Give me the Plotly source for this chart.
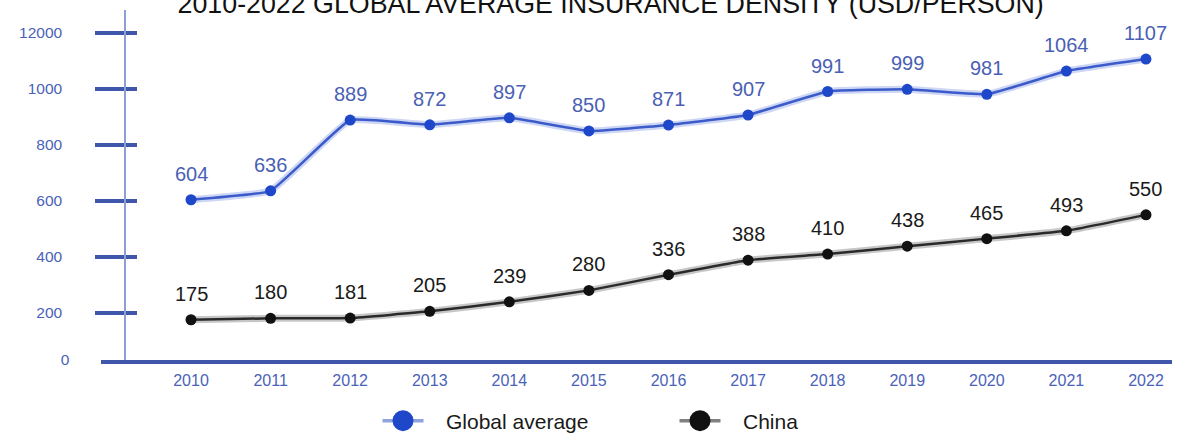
import plotly.graph_objects as go

years = [2010, 2011, 2012, 2013, 2014, 2015, 2016, 2017, 2018, 2019, 2020, 2021, 2022]
global_avg = [604, 636, 889, 872, 897, 850, 871, 907, 991, 999, 981, 1064, 1107]
china = [175, 180, 181, 205, 239, 280, 336, 388, 410, 438, 465, 493, 550]
y_tick_vals = [200, 400, 600, 800, 1000, 1200]
y_tick_text = ["200", "400", "600", "800", "1000", "12000"]
series_names = ["Global average", "China"]
title_text = "2010-2022 GLOBAL AVERAGE INSURANCE DENSITY (USD/PERSON)"

Y_MIN, Y_MAX = 31.1, 1282.4
X_MIN, X_MAX = 2008.869, 2022.327
YPOS = 0.0227
FONT = "Liberation Sans, Arial, sans-serif"
TICK_BLUE = "#4a62b8"
AXIS_DARK = "#3f56aa"
SMOOTH = 0.3
NBSP = "\u00a0"

fig = go.Figure()

# soft halos under the lines
fig.add_trace(go.Scatter(x=years, y=global_avg, mode="lines", showlegend=False, hoverinfo="skip",
                         line=dict(color="rgba(90,120,220,0.30)", width=7, shape="spline", smoothing=SMOOTH)))
fig.add_trace(go.Scatter(x=years, y=china, mode="lines", showlegend=False, hoverinfo="skip",
                         line=dict(color="rgba(0,0,0,0.22)", width=7, shape="spline", smoothing=SMOOTH)))
# main lines
fig.add_trace(go.Scatter(x=years, y=global_avg, mode="lines+markers", name=series_names[0], showlegend=False,
                         line=dict(color="#3a5bc9", width=2.5, shape="spline", smoothing=SMOOTH),
                         marker=dict(color="#1f47c9", size=11)))
fig.add_trace(go.Scatter(x=years, y=china, mode="lines+markers", name=series_names[1], showlegend=False,
                         line=dict(color="#2a2a2a", width=2.5, shape="spline", smoothing=SMOOTH),
                         marker=dict(color="#111111", size=11)))
# legend entries (larger symbols)
fig.add_trace(go.Scatter(x=[None], y=[None], mode="lines+markers", name=NBSP * 3 + series_names[0],
                         line=dict(color="#8fa3dd", width=3.5),
                         marker=dict(color="#1f47c9", size=16, line=dict(color="#1f47c9", width=5))))
fig.add_trace(go.Scatter(x=[None], y=[None], mode="lines+markers", name=NBSP * 3 + series_names[1],
                         line=dict(color="#808080", width=3.5),
                         marker=dict(color="#111111", size=16, line=dict(color="#111111", width=5))))

# helper traces to register extra axes
fig.add_trace(go.Scatter(x=[], y=[], yaxis="y2", showlegend=False, hoverinfo="skip"))
fig.add_trace(go.Scatter(x=[], y=[], yaxis="y3", showlegend=False, hoverinfo="skip"))

annotations = []
for x, v in zip(years, global_avg):
    annotations.append(dict(x=x, y=v, text=str(v), showarrow=False, yanchor="bottom", yshift=13,
                            font=dict(family=FONT, size=20, color="#4a60b4")))
for x, v in zip(years, china):
    annotations.append(dict(x=x, y=v, text=str(v), showarrow=False, yanchor="bottom", yshift=13,
                            font=dict(family=FONT, size=20, color="#1a1a1a")))

fig.update_layout(
    width=1195, height=434,
    margin=dict(l=101, r=23, t=10, b=74),
    paper_bgcolor="white", plot_bgcolor="white",
    font=dict(family=FONT),
    title=dict(text=title_text, x=0.511, xanchor="center", xref="container",
               y=0.992, yanchor="middle", yref="container",
               font=dict(family=FONT, size=26.8, color="#111111")),
    xaxis=dict(range=[X_MIN, X_MAX], tickvals=years, ticktext=[str(y) for y in years],
               showgrid=False, zeroline=False, showline=True, linecolor=AXIS_DARK, linewidth=3.5,
               ticks="", ticklabelstandoff=3,
               tickfont=dict(family=FONT, size=16, color=TICK_BLUE)),
    yaxis=dict(range=[Y_MIN, Y_MAX], anchor="free", position=YPOS, side="left",
               tickvals=y_tick_vals, ticktext=y_tick_text,
               showgrid=False, zeroline=False, showline=True, linecolor="#8c9fd7", linewidth=2,
               ticks="outside", ticklen=29, tickwidth=3.5, tickcolor=AXIS_DARK,
               ticklabelstandoff=30,
               tickfont=dict(family=FONT, size=15.5, color=TICK_BLUE)),
    yaxis2=dict(range=[Y_MIN, Y_MAX], anchor="free", position=YPOS, overlaying="y", side="left",
                tickvals=y_tick_vals, showticklabels=False,
                showgrid=False, zeroline=False, showline=False,
                ticks="inside", ticklen=11, tickwidth=3.5, tickcolor=AXIS_DARK),
    yaxis3=dict(range=[Y_MIN, Y_MAX], anchor="free", position=YPOS, overlaying="y", side="left",
                tickvals=[Y_MIN], ticktext=["0"],
                showgrid=False, zeroline=False, showline=False, ticks="",
                ticklabelstandoff=56,
                tickfont=dict(family=FONT, size=15.5, color=TICK_BLUE)),
    legend=dict(orientation="h", xref="container", yref="container", x=0.3159, xanchor="left",
                y=0.030, yanchor="middle", entrywidth=241, itemwidth=41,
                font=dict(family=FONT, size=21, color="#1a1a1a")),
    annotations=annotations,
    showlegend=True,
)

fig.write_html("out.html", config={"displayModeBar": False},
               post_script="document.body.style.margin='0';")
